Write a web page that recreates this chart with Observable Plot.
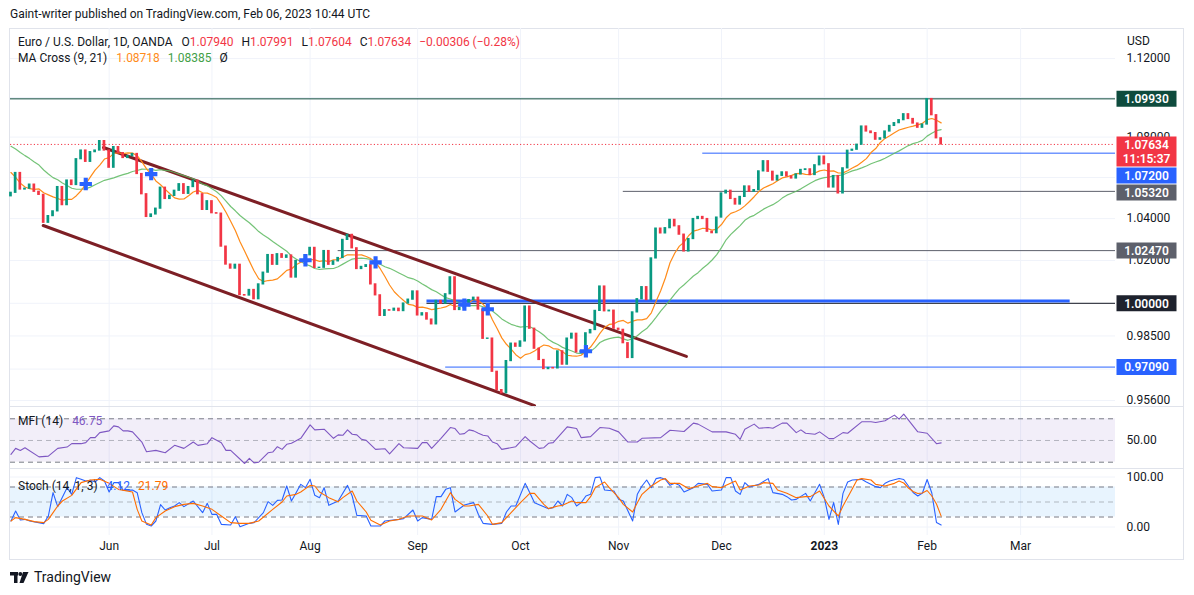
<!DOCTYPE html>
<html><head><meta charset="utf-8">
<script src="https://cdn.jsdelivr.net/npm/d3@7"></script>
<script src="https://cdn.jsdelivr.net/npm/@observablehq/plot@0.6"></script>
<style>
body{margin:0;background:#fff;font-family:Roboto,"Liberation Sans",sans-serif;color:#131722;}
#wrap{position:relative;width:1194px;height:595px;overflow:hidden;background:#fff;}
.abs{position:absolute;white-space:nowrap;}
.lg{font-size:12px;line-height:14px;color:#131722;}
.sep{position:absolute;left:9px;width:1174px;height:1px;background:#e0e3eb;}
</style></head><body><div id="wrap">
<div class="abs" style="left:10px;top:7px;font-size:12px;color:#131722;">Gaint-writer published on TradingView.com, Feb 06, 2023 10:44 UTC</div>
<div class="abs" style="left:9px;top:28px;width:1173px;height:530px;border:1px solid #e0e3eb;"></div>
<div id="main" class="abs" style="left:0;top:28px;"></div>
<div id="mfi" class="abs" style="left:0;top:407px;"></div>
<div id="stoch" class="abs" style="left:0;top:469px;"></div>
<div class="sep" style="top:406px"></div>
<div class="sep" style="top:468px"></div>
<div id="leg1" class="abs lg" style="left:18px;top:35px;"></div>
<div id="leg2" class="abs lg" style="left:18px;top:51px;"></div>
<div id="leg3" class="abs lg" style="left:18px;top:414px;"></div>
<div id="leg4" class="abs lg" style="left:18px;top:479px;"></div>
<div class="abs" style="left:1127px;top:34px;font-size:12px;color:#131722;">USD</div>
<div class="abs" style="left:10px;top:569px;display:flex;align-items:center;gap:5px;">
<svg width="19" height="13" viewBox="0 0 19 13"><rect x="0" y="1" width="8" height="3.5" fill="#131722"/><rect x="4" y="1" width="3.5" height="11" fill="#131722"/><circle cx="10.3" cy="3" r="2" fill="#131722"/><path d="M13 1 L18.5 1 L13.5 12 L9.5 12 Z" fill="#131722"/></svg>
<span style="font-size:14px;color:#131722;">TradingView</span></div>
</div>
<script>
// ---------- data ----------
const warmupCloses = [1.0970,1.0903,1.0901,1.0880,1.0876,1.0886,1.0830,1.0888,1.0826,1.0810,1.0780,1.0787,1.0853,1.0835,1.0796,1.0716,1.0640,1.0557,1.0498,1.0545,1.0507];
const opens = [1.0508,1.0525,1.0622,1.0541,1.0545,1.0565,1.0530,1.0515,1.0380,1.0412,1.0435,1.0553,1.0465,1.0585,1.0563,1.0690,1.0733,1.0677,1.0725,1.0733,1.0780,
1.0733,1.0648,1.0750,1.0720,1.0696,1.0705,1.0716,1.0617,1.0518,1.0408,1.0420,1.0448,1.0550,1.0495,1.0510,1.0535,1.0567,1.0520,1.0553,1.0584,1.0518,1.0442,
1.0484,1.0426,1.0424,1.0266,1.0181,1.0162,1.0180,1.0038,1.0036,1.0062,1.0019,1.0088,1.0143,1.0226,1.0180,1.0230,1.0213,1.0224,1.0120,1.0198,1.0196,
1.0225,1.0260,1.0165,1.0166,1.0245,1.0180,1.0196,1.0212,1.0298,1.0322,1.0258,1.0160,1.0170,1.0178,1.0088,1.0037,0.9942,0.9968,0.9966,0.9975,0.9964,0.9999,1.0017,
1.0055,0.9944,0.9954,0.9925,0.9903,1.0011,0.9998,1.0042,1.0121,0.9969,0.9978,0.9998,1.0015,1.0026,0.9971,0.9837,0.9838,0.9688,0.9606,0.9592,0.9736,0.9815,
0.9801,0.9825,0.9985,0.9883,0.9792,0.9741,0.9700,0.9705,0.9703,0.9780,0.9720,0.9838,0.9860,0.9775,0.9780,0.9862,0.9877,0.9965,1.0078,0.9963,0.9966,
0.9883,0.9878,0.9817,0.9750,0.9958,1.0019,1.0075,1.0015,1.0210,1.0352,1.0329,1.0354,1.0394,1.0363,1.0323,1.0243,1.0302,1.0398,1.0408,1.0398,1.0337,1.0330,
1.0405,1.0522,1.0535,1.0495,1.0468,1.0505,1.0556,1.0530,1.0538,1.0630,1.0680,1.0628,1.0585,1.0608,1.0625,1.0605,1.0595,1.0615,1.0637,1.0640,1.0612,1.0660,
1.0703,1.0665,1.0551,1.0607,1.0522,1.0645,1.0732,1.0737,1.0762,1.0853,1.0828,1.0820,1.0787,1.0794,1.0828,1.0856,1.0870,1.0885,1.0915,1.0891,1.0868,1.0847,
1.0863,1.0992,1.0910,1.0794];
const closes = [1.0525,1.0622,1.0541,1.0545,1.0565,1.0530,1.0515,1.0380,1.0412,1.0435,1.0553,1.0465,1.0585,1.0563,1.0690,1.0733,1.0677,1.0725,1.0733,1.0780,1.0733,
1.0648,1.0750,1.0720,1.0696,1.0705,1.0716,1.0617,1.0518,1.0408,1.0420,1.0448,1.0550,1.0495,1.0510,1.0535,1.0567,1.0520,1.0553,1.0584,1.0518,1.0442,1.0484,
1.0426,1.0424,1.0266,1.0181,1.0162,1.0180,1.0038,1.0036,1.0062,1.0019,1.0088,1.0143,1.0226,1.0180,1.0230,1.0213,1.0224,1.0120,1.0198,1.0196,1.0225,
1.0260,1.0165,1.0166,1.0245,1.0180,1.0196,1.0212,1.0298,1.0322,1.0258,1.0160,1.0170,1.0178,1.0088,1.0037,0.9942,0.9968,0.9966,0.9975,0.9964,0.9999,1.0017,1.0055,
0.9944,0.9954,0.9925,0.9903,1.0011,0.9998,1.0042,1.0121,0.9969,0.9978,0.9998,1.0015,1.0026,0.9971,0.9837,0.9838,0.9688,0.9606,0.9592,0.9736,0.9815,0.9801,
0.9825,0.9985,0.9883,0.9792,0.9741,0.9700,0.9705,0.9703,0.9780,0.9720,0.9838,0.9860,0.9775,0.9780,0.9862,0.9877,0.9965,1.0078,0.9963,0.9966,0.9883,
0.9878,0.9817,0.9750,0.9958,1.0019,1.0075,1.0015,1.0210,1.0352,1.0329,1.0354,1.0394,1.0363,1.0323,1.0243,1.0302,1.0398,1.0408,1.0398,1.0337,1.0330,1.0405,
1.0522,1.0535,1.0495,1.0468,1.0505,1.0556,1.0530,1.0538,1.0630,1.0680,1.0628,1.0585,1.0608,1.0625,1.0605,1.0595,1.0615,1.0637,1.0640,1.0612,1.0660,1.0703,
1.0665,1.0551,1.0607,1.0522,1.0645,1.0732,1.0737,1.0762,1.0853,1.0828,1.0820,1.0787,1.0794,1.0828,1.0856,1.0870,1.0885,1.0915,1.0891,1.0868,1.0847,1.0863,
1.0992,1.0910,1.0794,1.07634];
const monthTicks = [[21,"Jun"],[43,"Jul"],[64,"Aug"],[87,"Sep"],[109,"Oct"],[130,"Nov"],[152,"Dec"],[174,"2023"],[196,"Feb"],[216,"Mar"]];
const priceTicks = [1.12,1.10,1.08,1.06,1.04,1.02,1.00,0.985,0.97,0.956];
const levels = [[1.0993,-0.1,"#0e4b3d"],[1.072,148,"#2962ff"],[1.0532,131,"#5d606b"],[1.0247,70,"#5d606b"],[1.0,89,"#131722"],[0.9709,93,"#2962ff"]];
const blueZone = [[1.0011,89,226.6]];
const channelUpper = [[19.8,1.0748],[144.5,0.9757]];
const channelLower = [[6.9,1.0367],[112,0.9537]];
const priceLabels = [[1.0993,"#0e4b3d",""],[1.07634,"#f23645","11:15:37"],[1.072,"#2962ff",""],[1.0532,"#5d606b",""],[1.0247,"#5d606b",""],[1.0,"#1e222d",""],[0.9709,"#2962ff",""]];
const lastBar = {o:"1.07940",h:"1.07991",l:"1.07604",c:"1.07634",chg:"\u22120.00306 (\u22120.28%)"};
const maLegend = ["1.08718","1.08385"];
const mfiBands = [80,50,20];
const stochBands = [80,50,20];
const mfiPoints = [[0,30.8],[1,39.1],[2,36.3],[3,40],[6,27.4],[8,28.4],[10,39.1],[12,40.9],[13,45.6],[15,45.6],[16,47],[17,53.9],[18,53.9],[19,60.9],[21,63.3],[22,70.2],[23,68.8],[24,63.3],[25,63.3],[26,61.9],[28,47.9],[29,34.4],[31,36.3],[33,33],[35,43.3],[37,39.1],[39,47.9],[40,43.3],[42,45.6],[43,53.9],[45,47],[46,36.3],[47,36.3],[50,18.2],[51,25.2],[52,19.1],[53,20],[55,33],[56,34],[57,41.4],[58,37.7],[59,44.7],[60,46.1],[62,53],[64,71.6],[65,64.7],[67,65.6],[69,53],[70,57.7],[71,57.2],[72,64.7],[73,58.6],[74,57.7],[75,51.6],[76,50.2],[78,37.7],[80,38.6],[81,31.6],[83,45.6],[84,40],[87,39.1],[88,47],[89,47],[90,39.1],[92,53],[94,67.9],[95,66.5],[96,58.6],[97,59.5],[98,64.7],[99,63.3],[100,60],[101,57.2],[102,56.3],[103,47.9],[104,45.6],[105,37.7],[108,41.4],[110,55.4],[111,49.3],[113,39.1],[114,40],[115,46.1],[116,47],[119,68.8],[121,66.5],[122,53.9],[124,55.4],[126,67.9],[128,67],[130,61.9],[132,47.9],[134,47.9],[135,53],[139,53.9],[141,64.2],[144,62.4],[146,74],[147,72.6],[150,61.9],[153,61.9],[155,58.6],[156,51.6],[157,65.6],[159,72.6],[160,67],[162,67.9],[163,67],[165,74],[166,74],[168,60.9],[169,64.7],[170,60],[172,58.6],[173,61.9],[175,52.6],[176,52.6],[178,60.9],[179,60],[182,75.8],[184,75.8],[185,74.9],[187,77.2],[189,85.1],[190,79.5],[191,86.5],[194,62],[196,60],[198,45.6],[199,46.75]];
const stochK = [[0,12],[1,32],[2,14],[3,15.3],[4,12],[7,6.7],[8,22],[9,68.7],[10,40.7],[12,78.7],[13,65.3],[14,98.7],[15,95.3],[16,92],[17,93.3],[18,90],[19,98.7],[20,92],[21,70],[22,88.7],[23,88.7],[24,73.3],[26,74],[27,68.7],[28,28.7],[29,5.3],[30,2],[31,12],[32,44.7],[33,34],[34,38.7],[35,42],[36,48.7],[37,40.7],[39,52],[41,28.7],[42,47.3],[43,25.3],[44,25.3],[45,5.3],[47,4],[48,20.7],[49,0.7],[51,7.3],[52,8.7],[54,28.7],[55,50.7],[56,43.3],[57,53.3],[58,54],[59,82],[60,52],[61,68.7],[62,85.3],[63,78.7],[64,95.3],[65,63.3],[66,58.7],[67,78.7],[68,43.3],[70,52],[72,83.3],[73,62],[74,23.3],[76,22],[77,2],[79,2],[80,12],[83,15.3],[84,16.7],[86,34],[87,12],[88,18.7],[90,15.3],[91,60.7],[92,60.7],[93,75.3],[94,78.7],[95,30],[97,44],[99,48.7],[100,25],[101,7.3],[103,5.3],[105,7.3],[106,30],[107,42],[108,42],[110,87.3],[111,68.7],[112,48.7],[114,40.7],[115,36.7],[116,38.7],[117,52],[118,42],[119,65.3],[120,58.7],[121,42],[122,48.7],[123,62],[124,65.3],[125,98.7],[126,100],[127,74],[129,72],[130,55.3],[131,52],[132,32],[133,12],[134,65.3],[135,82],[136,94],[137,78.7],[138,96.7],[139,98.7],[140,95.3],[141,83.3],[142,87.3],[143,83.3],[144,70],[146,78.7],[147,87.3],[149,85.3],[150,72],[152,74],[153,98.7],[154,98.7],[155,72],[156,65.3],[157,88.7],[158,80],[160,85.3],[162,96.7],[163,68.7],[165,65.3],[166,60.7],[167,54],[168,55.3],[170,67.3],[171,52],[173,85.3],[174,58.7],[175,15.3],[176,48.7],[177,5.3],[178,67.3],[179,90],[180,94],[182,95.3],[183,90],[185,80.7],[186,78.7],[187,87.3],[188,92],[190,97],[191,95],[192,82],[193,69],[194,62],[195,68],[196,95],[197,68],[198,9],[199,4.12]];
const stochD = [[0,12],[1,18.7],[3,15.3],[5,10.7],[7,8.7],[8,15.3],[10,42],[11,52],[13,63.3],[15,88.7],[17,94],[19,95.3],[21,87.3],[23,75.3],[26,70],[27,35.3],[28,12],[30,4],[31,18.7],[33,32],[35,40.7],[37,45.3],[39,47.3],[41,42],[43,35.3],[45,22],[47,8.7],[49,7.3],[51,7.3],[53,12],[56,35.3],[58,50],[59,62],[61,65.3],[62,70],[64,83.3],[65,82],[66,70],[68,58.7],[70,50.7],[71,58.7],[73,72],[74,52],[76,30],[77,13.3],[79,4],[81,12],[83,15.3],[85,22],[88,22],[90,14],[92,35.3],[94,68.7],[95,55.3],[97,42],[98,42],[100,45.3],[102,22],[103,5.3],[105,8.7],[107,28.7],[109,48.7],[111,67.3],[112,67.3],[114,45.3],[115,36.7],[117,42],[118,43.3],[120,52],[121,48.7],[123,48.7],[124,60.7],[125,78.7],[127,90],[128,78.7],[130,58.7],[131,45.3],[133,30],[134,48.7],[135,65.3],[137,82],[139,94],[140,96.7],[141,87.3],[143,87.3],[144,82],[145,76.7],[147,82],[149,87.3],[150,80.7],[152,78.7],[153,83.3],[155,92],[156,74],[158,82],[160,84],[161,88.7],[163,87.3],[164,74],[166,67.3],[168,58.7],[170,60.7],[171,60.7],[173,72],[175,42],[177,22],[178,42],[180,76.7],[181,94],[182,96.7],[184,94],[185,85.3],[187,82],[189,87.3],[190,92],[191,88],[192,78],[193,71],[194,67],[195,68],[196,73],[197,62],[198,46],[199,21.79]];

// ---------- derived ----------
const W = 1194, MR = 79, ML = 10;
const xDomain = [-0.1, 236.3];
const yDomain = [0.9529, 1.1357];
const mainH = 379;
const FONT = 'Roboto,"Liberation Sans",sans-serif';
const GREEN = "#089981", RED = "#f23645", GRID = "#f0f3fa";
const candles = opens.map((o, i) => ({i, open: o, close: closes[i]}));
const all = warmupCloses.concat(closes), off = warmupCloses.length;
const sma = k => closes.map((_, i) => ({i, v: d3.mean(all.slice(i + off - k + 1, i + off + 1))}));
const ma9 = sma(9), ma21 = sma(21);
const crosses = [];
for (let i = 1; i < closes.length; i++) {
  const a = ma9[i-1].v - ma21[i-1].v, b = ma9[i].v - ma21[i].v;
  if ((a < 0) !== (b < 0)) crosses.push({i, v: ma9[i].v});
}
const monthIdx = monthTicks.map(d => d[0]);
const monthLabel = new Map(monthTicks);
const levelObjs = levels.map(([price, from, color]) => ({price, from, color}));

// label collision (TradingView stacks overlapping axis labels)
const yPx = d3.scaleLog().domain(yDomain).range([mainH, 0]);
const boxes = priceLabels.map(([price, color, sub]) => ({price, color, sub, py: yPx(price)})).sort((a, b) => a.py - b.py);
let prevBottom = -Infinity;
for (const b of boxes) {
  let top = b.py - 8;
  if (top < prevBottom + 1) top = prevBottom + 1;
  b.dy = top + 8 - b.py;
  prevBottom = top + (b.sub ? 30 : 16);
}
const boxSym = {draw(ctx){ctx.moveTo(-30,-8);ctx.lineTo(30,-8);ctx.lineTo(30,8);ctx.lineTo(-30,8);ctx.closePath();}};
const boxSym2 = {draw(ctx){ctx.moveTo(-30,-8);ctx.lineTo(30,-8);ctx.lineTo(30,22);ctx.lineTo(-30,22);ctx.closePath();}};

const labelMarks = boxes.flatMap(b => {
  const m = [
    Plot.dot([b], {y: "price", frameAnchor: "right", dx: 31, dy: b.dy, symbol: b.sub ? boxSym2 : boxSym, fill: b.color, stroke: null, r: 5}),
    Plot.text([b], {y: "price", frameAnchor: "right", dx: 31, dy: b.dy + 0.5, text: d => d.price.toFixed(5), fill: "#fff", fontWeight: 600, fontSize: 12, textAnchor: "middle"})
  ];
  if (b.sub) m.push(Plot.text([b], {y: "price", frameAnchor: "right", dx: 31, dy: b.dy + 14.5, text: d => d.sub, fill: "#fff", fontWeight: 600, fontSize: 12, textAnchor: "middle"}));
  return m;
});

const main = Plot.plot({
  width: W, height: mainH, marginLeft: ML, marginRight: MR, marginTop: 0, marginBottom: 0,
  x: {type: "linear", domain: xDomain, axis: null},
  y: {type: "log", domain: yDomain, axis: null},
  style: {fontFamily: FONT, fontSize: "12px", color: "#131722", background: "transparent", overflow: "visible"},
  marks: [
    Plot.gridY(priceTicks, {stroke: GRID, strokeOpacity: 1}),
    Plot.gridX(monthIdx, {stroke: GRID, strokeOpacity: 1}),
    Plot.ruleY(levelObjs, {y: "price", x1: "from", x2: xDomain[1], stroke: "color", strokeWidth: 1}),
    Plot.ruleY(blueZone, {y: d => d[0], x1: d => d[1], x2: d => d[2], stroke: "#2962ff", strokeWidth: 3}),
    Plot.ruleY([closes[closes.length-1]], {stroke: RED, strokeDasharray: "1.2,2.2", strokeWidth: 1}),
    Plot.line(channelUpper, {x: d => d[0], y: d => d[1], stroke: "#7d1f25", strokeWidth: 3}),
    Plot.line(channelLower, {x: d => d[0], y: d => d[1], stroke: "#7d1f25", strokeWidth: 3}),
    Plot.line(ma21, {x: "i", y: "v", stroke: "#5cb85f", strokeWidth: 1.2, strokeOpacity: 0.85}),
    Plot.line(ma9, {x: "i", y: "v", stroke: "#ff8c1a", strokeWidth: 1.2}),
    Plot.rect(candles, {x1: d => d.i - 0.29, x2: d => d.i + 0.29, y1: "open", y2: "close", insetTop: -0.6, insetBottom: -0.6,
      fill: d => d.close >= d.open ? GREEN : RED}),
    Plot.dot(crosses, {x: "i", y: "v", symbol: "cross", r: 5.2, fill: "#2962ff", stroke: null}),
    Plot.axisY(priceTicks, {anchor: "right", tickSize: 0, tickPadding: 11, textAnchor: "start", tickFormat: d => d.toFixed(5), fill: "#131722", fontSize: 12}),
    ...labelMarks
  ]
});
document.getElementById("main").appendChild(main);

const mfi = Plot.plot({
  width: W, height: 62, marginLeft: ML, marginRight: MR, marginTop: 0, marginBottom: 0,
  x: {type: "linear", domain: xDomain, axis: null},
  y: {domain: [9.9, 95.6], axis: null},
  style: {fontFamily: FONT, fontSize: "12px", color: "#131722", background: "transparent", overflow: "visible"},
  marks: [
    Plot.gridX(monthIdx, {stroke: GRID, strokeOpacity: 1}),
    Plot.rect([mfiBands], {x1: xDomain[0], x2: xDomain[1], y1: d => d[2], y2: d => d[0], fill: "#7e57c2", fillOpacity: 0.1}),
    Plot.ruleY([mfiBands[0], mfiBands[2]], {stroke: "#787b86", strokeDasharray: "5,4"}),
    Plot.ruleY([mfiBands[1]], {stroke: "#787b86", strokeOpacity: 0.5, strokeDasharray: "5,4"}),
    Plot.line(mfiPoints, {x: d => d[0], y: d => d[1], stroke: "#7e57c2", strokeWidth: 1.1}),
    Plot.axisY([50], {anchor: "right", tickSize: 0, tickPadding: 11, textAnchor: "start", tickFormat: d => d.toFixed(2), fill: "#131722", fontSize: 12})
  ]
});
document.getElementById("mfi").appendChild(mfi);

const stoch = Plot.plot({
  width: W, height: 90, marginLeft: ML, marginRight: MR, marginTop: 0, marginBottom: 24,
  x: {type: "linear", domain: xDomain},
  y: {domain: [-17, 115], axis: null},
  style: {fontFamily: FONT, fontSize: "12px", color: "#131722", background: "transparent", overflow: "visible"},
  marks: [
    Plot.gridX(monthIdx, {stroke: GRID, strokeOpacity: 1}),
    Plot.gridY([0, 100], {stroke: GRID, strokeOpacity: 1}),
    Plot.rect([stochBands], {x1: xDomain[0], x2: xDomain[1], y1: d => d[2], y2: d => d[0], fill: "#2196f3", fillOpacity: 0.1}),
    Plot.ruleY([stochBands[0], stochBands[2]], {stroke: "#787b86", strokeDasharray: "5,4"}),
    Plot.ruleY([stochBands[1]], {stroke: "#787b86", strokeOpacity: 0.5, strokeDasharray: "5,4"}),
    Plot.line(stochK, {x: d => d[0], y: d => d[1], stroke: "#2962ff", strokeWidth: 1.1}),
    Plot.line(stochD, {x: d => d[0], y: d => d[1], stroke: "#ff6d00", strokeWidth: 1.1}),
    Plot.axisY([0, 100], {anchor: "right", tickSize: 0, tickPadding: 11, textAnchor: "start", tickFormat: d => d.toFixed(2), fill: "#131722", fontSize: 12}),
    Plot.axisX(monthIdx.filter(i => monthLabel.get(i) !== "2023"), {tickSize: 0, tickPadding: 6, tickFormat: i => monthLabel.get(i), fill: "#131722", fontSize: 12, label: null}),
    Plot.axisX(monthIdx.filter(i => monthLabel.get(i) === "2023"), {tickSize: 0, tickPadding: 6, tickFormat: i => monthLabel.get(i), fill: "#131722", fontSize: 12, fontWeight: "bold", label: null})
  ]
});
document.getElementById("stoch").appendChild(stoch);

// legends
document.getElementById("leg1").innerHTML =
  `Euro / U.S. Dollar, 1D, OANDA<span style="margin-left:9px">O</span><span style="color:${RED}">${lastBar.o}</span>` +
  `<span style="margin-left:8px">H</span><span style="color:${RED}">${lastBar.h}</span>` +
  `<span style="margin-left:8px">L</span><span style="color:${RED}">${lastBar.l}</span>` +
  `<span style="margin-left:8px">C</span><span style="color:${RED}">${lastBar.c}</span>` +
  `<span style="margin-left:8px;color:${RED}">${lastBar.chg}</span>`;
document.getElementById("leg2").innerHTML =
  `MA Cross (9, 21)<span style="margin-left:9px;color:#ff8c1a">${maLegend[0]}</span>` +
  `<span style="margin-left:8px;color:#43a047">${maLegend[1]}</span><span style="margin-left:8px">\u00d8</span>`;
document.getElementById("leg3").innerHTML =
  `MFI (14)<span style="margin-left:9px;color:#7e57c2">${mfiPoints[mfiPoints.length-1][1].toFixed(2)}</span>`;
document.getElementById("leg4").innerHTML =
  `Stoch (14, 1, 3)<span style="margin-left:9px;color:#2962ff">${stochK[stochK.length-1][1].toFixed(2)}</span>` +
  `<span style="margin-left:8px;color:#ff6d00">${stochD[stochD.length-1][1].toFixed(2)}</span>`;
</script>
</body></html>
